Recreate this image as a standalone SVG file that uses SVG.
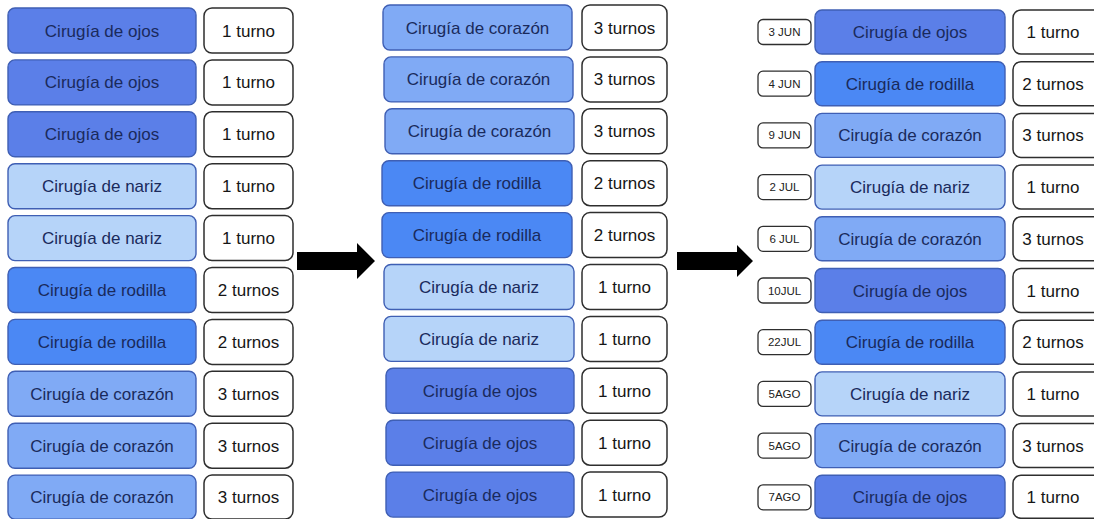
<svg xmlns="http://www.w3.org/2000/svg" width="1094" height="519" viewBox="0 0 1094 519">
  <style>
    .proc { stroke: #3f5fb4; stroke-width: 1.4; }
    .ojos { fill: #5b7fe8; }
    .rodilla { fill: #4b88f4; }
    .corazon { fill: #80aaf5; }
    .nariz { fill: #b6d4f9; }
    .slot { fill: #ffffff; stroke: #2e2e2e; stroke-width: 1.5; }
    .date { fill: #ffffff; stroke: #2e2e2e; stroke-width: 1.3; }
    .t { font-family: "Liberation Sans", Arial, sans-serif; font-size: 17px; text-anchor: middle; }
    .tp { fill: #1a2a5c; }
    .ts { fill: #161616; }
    .td { font-family: "Liberation Sans", Arial, sans-serif; font-size: 11.5px; text-anchor: middle; fill: #222222; }
    .arrow { fill: #000000; }
  </style>

  <rect width="1094" height="519" fill="#ffffff"/>

  <!-- Column 1: requests in arrival order -->
  <g id="col1">
    <g id="c1r1"><rect class="proc ojos" x="8" y="8" width="188" height="45" rx="7"/><text class="t tp" x="102" y="36.5">Cirugía de ojos</text></g>
    <g id="c1r1s"><rect class="slot" x="204" y="8" width="89" height="45" rx="8"/><text class="t ts" x="248.5" y="36.5">1 turno</text></g>
    <g id="c1r2"><rect class="proc ojos" x="8" y="59.9" width="188" height="45" rx="7"/><text class="t tp" x="102" y="88.4">Cirugía de ojos</text></g>
    <g id="c1r2s"><rect class="slot" x="204" y="59.9" width="89" height="45" rx="8"/><text class="t ts" x="248.5" y="88.4">1 turno</text></g>
    <g id="c1r3"><rect class="proc ojos" x="8" y="111.8" width="188" height="45" rx="7"/><text class="t tp" x="102" y="140.3">Cirugía de ojos</text></g>
    <g id="c1r3s"><rect class="slot" x="204" y="111.8" width="89" height="45" rx="8"/><text class="t ts" x="248.5" y="140.3">1 turno</text></g>
    <g id="c1r4"><rect class="proc nariz" x="8" y="163.7" width="188" height="45" rx="7"/><text class="t tp" x="102" y="192.2">Cirugía de nariz</text></g>
    <g id="c1r4s"><rect class="slot" x="204" y="163.7" width="89" height="45" rx="8"/><text class="t ts" x="248.5" y="192.2">1 turno</text></g>
    <g id="c1r5"><rect class="proc nariz" x="8" y="215.6" width="188" height="45" rx="7"/><text class="t tp" x="102" y="244.1">Cirugía de nariz</text></g>
    <g id="c1r5s"><rect class="slot" x="204" y="215.6" width="89" height="45" rx="8"/><text class="t ts" x="248.5" y="244.1">1 turno</text></g>
    <g id="c1r6"><rect class="proc rodilla" x="8" y="267.5" width="188" height="45" rx="7"/><text class="t tp" x="102" y="296">Cirugía de rodilla</text></g>
    <g id="c1r6s"><rect class="slot" x="204" y="267.5" width="89" height="45" rx="8"/><text class="t ts" x="248.5" y="296">2 turnos</text></g>
    <g id="c1r7"><rect class="proc rodilla" x="8" y="319.4" width="188" height="45" rx="7"/><text class="t tp" x="102" y="347.9">Cirugía de rodilla</text></g>
    <g id="c1r7s"><rect class="slot" x="204" y="319.4" width="89" height="45" rx="8"/><text class="t ts" x="248.5" y="347.9">2 turnos</text></g>
    <g id="c1r8"><rect class="proc corazon" x="8" y="371.3" width="188" height="45" rx="7"/><text class="t tp" x="102" y="399.8">Cirugía de corazón</text></g>
    <g id="c1r8s"><rect class="slot" x="204" y="371.3" width="89" height="45" rx="8"/><text class="t ts" x="248.5" y="399.8">3 turnos</text></g>
    <g id="c1r9"><rect class="proc corazon" x="8" y="423.2" width="188" height="45" rx="7"/><text class="t tp" x="102" y="451.7">Cirugía de corazón</text></g>
    <g id="c1r9s"><rect class="slot" x="204" y="423.2" width="89" height="45" rx="8"/><text class="t ts" x="248.5" y="451.7">3 turnos</text></g>
    <g id="c1r10"><rect class="proc corazon" x="8" y="475.1" width="188" height="44" rx="7"/><text class="t tp" x="102" y="503.1">Cirugía de corazón</text></g>
    <g id="c1r10s"><rect class="slot" x="204" y="475.1" width="89" height="44" rx="8"/><text class="t ts" x="248.5" y="503.1">3 turnos</text></g>
  </g>

  <!-- Column 2: requests sorted by number of slots -->
  <g id="col2">
    <g id="c2r1"><rect class="proc corazon" x="383" y="5" width="189" height="45" rx="7"/><text class="t tp" x="477.5" y="33.5">Cirugía de corazón</text></g>
    <g id="c2r1s"><rect class="slot" x="582" y="5" width="85" height="45" rx="8"/><text class="t ts" x="624.5" y="33.5">3 turnos</text></g>
    <g id="c2r2"><rect class="proc corazon" x="384" y="56.9" width="189" height="45" rx="7"/><text class="t tp" x="478.5" y="85.4">Cirugía de corazón</text></g>
    <g id="c2r2s"><rect class="slot" x="582" y="56.9" width="85" height="45" rx="8"/><text class="t ts" x="624.5" y="85.4">3 turnos</text></g>
    <g id="c2r3"><rect class="proc corazon" x="385" y="108.8" width="189" height="45" rx="7"/><text class="t tp" x="479.5" y="137.3">Cirugía de corazón</text></g>
    <g id="c2r3s"><rect class="slot" x="582" y="108.8" width="85" height="45" rx="8"/><text class="t ts" x="624.5" y="137.3">3 turnos</text></g>
    <g id="c2r4"><rect class="proc rodilla" x="382" y="160.7" width="190" height="45" rx="7"/><text class="t tp" x="477" y="189.2">Cirugía de rodilla</text></g>
    <g id="c2r4s"><rect class="slot" x="582" y="160.7" width="85" height="45" rx="8"/><text class="t ts" x="624.5" y="189.2">2 turnos</text></g>
    <g id="c2r5"><rect class="proc rodilla" x="382" y="212.6" width="190" height="45" rx="7"/><text class="t tp" x="477" y="241.1">Cirugía de rodilla</text></g>
    <g id="c2r5s"><rect class="slot" x="582" y="212.6" width="85" height="45" rx="8"/><text class="t ts" x="624.5" y="241.1">2 turnos</text></g>
    <g id="c2r6"><rect class="proc nariz" x="384" y="264.5" width="190" height="45" rx="7"/><text class="t tp" x="479" y="293">Cirugía de nariz</text></g>
    <g id="c2r6s"><rect class="slot" x="582" y="264.5" width="85" height="45" rx="8"/><text class="t ts" x="624.5" y="293">1 turno</text></g>
    <g id="c2r7"><rect class="proc nariz" x="384" y="316.4" width="190" height="45" rx="7"/><text class="t tp" x="479" y="344.9">Cirugía de nariz</text></g>
    <g id="c2r7s"><rect class="slot" x="582" y="316.4" width="85" height="45" rx="8"/><text class="t ts" x="624.5" y="344.9">1 turno</text></g>
    <g id="c2r8"><rect class="proc ojos" x="386" y="368.3" width="188" height="45" rx="7"/><text class="t tp" x="480" y="396.8">Cirugía de ojos</text></g>
    <g id="c2r8s"><rect class="slot" x="582" y="368.3" width="85" height="45" rx="8"/><text class="t ts" x="624.5" y="396.8">1 turno</text></g>
    <g id="c2r9"><rect class="proc ojos" x="386" y="420.2" width="188" height="45" rx="7"/><text class="t tp" x="480" y="448.7">Cirugía de ojos</text></g>
    <g id="c2r9s"><rect class="slot" x="582" y="420.2" width="85" height="45" rx="8"/><text class="t ts" x="624.5" y="448.7">1 turno</text></g>
    <g id="c2r10"><rect class="proc ojos" x="386" y="472.1" width="188" height="45" rx="7"/><text class="t tp" x="480" y="500.6">Cirugía de ojos</text></g>
    <g id="c2r10s"><rect class="slot" x="582" y="472.1" width="85" height="45" rx="8"/><text class="t ts" x="624.5" y="500.6">1 turno</text></g>
  </g>

  <!-- Column 3: scheduled dates -->
  <g id="col3">
    <g id="c3r1d"><rect class="date" x="758" y="19.5" width="53" height="25" rx="5"/><text class="td" x="784.5" y="36">3 JUN</text></g>
    <g id="c3r1"><rect class="proc ojos" x="815" y="10" width="190" height="44" rx="7"/><text class="t tp" x="910" y="38">Cirugía de ojos</text></g>
    <g id="c3r1s"><rect class="slot" x="1013" y="10" width="92" height="44" rx="8"/><text class="t ts" x="1053" y="38">1 turno</text></g>

    <g id="c3r2d"><rect class="date" x="758" y="71.2" width="53" height="25" rx="5"/><text class="td" x="784.5" y="87.7">4 JUN</text></g>
    <g id="c3r2"><rect class="proc rodilla" x="815" y="61.7" width="190" height="44" rx="7"/><text class="t tp" x="910" y="89.7">Cirugía de rodilla</text></g>
    <g id="c3r2s"><rect class="slot" x="1013" y="61.7" width="92" height="44" rx="8"/><text class="t ts" x="1053" y="89.7">2 turnos</text></g>

    <g id="c3r3d"><rect class="date" x="758" y="122.9" width="53" height="25" rx="5"/><text class="td" x="784.5" y="139.4">9 JUN</text></g>
    <g id="c3r3"><rect class="proc corazon" x="815" y="113.4" width="190" height="44" rx="7"/><text class="t tp" x="910" y="141.4">Cirugía de corazón</text></g>
    <g id="c3r3s"><rect class="slot" x="1013" y="113.4" width="92" height="44" rx="8"/><text class="t ts" x="1053" y="141.4">3 turnos</text></g>

    <g id="c3r4d"><rect class="date" x="758" y="174.6" width="53" height="25" rx="5"/><text class="td" x="784.5" y="191.1">2 JUL</text></g>
    <g id="c3r4"><rect class="proc nariz" x="815" y="165.1" width="190" height="44" rx="7"/><text class="t tp" x="910" y="193.1">Cirugía de nariz</text></g>
    <g id="c3r4s"><rect class="slot" x="1013" y="165.1" width="92" height="44" rx="8"/><text class="t ts" x="1053" y="193.1">1 turno</text></g>

    <g id="c3r5d"><rect class="date" x="758" y="226.3" width="53" height="25" rx="5"/><text class="td" x="784.5" y="242.8">6 JUL</text></g>
    <g id="c3r5"><rect class="proc corazon" x="815" y="216.8" width="190" height="44" rx="7"/><text class="t tp" x="910" y="244.8">Cirugía de corazón</text></g>
    <g id="c3r5s"><rect class="slot" x="1013" y="216.8" width="92" height="44" rx="8"/><text class="t ts" x="1053" y="244.8">3 turnos</text></g>

    <g id="c3r6d"><rect class="date" x="758" y="278" width="53" height="25" rx="5"/><text class="td" x="784.5" y="294.5">10JUL</text></g>
    <g id="c3r6"><rect class="proc ojos" x="815" y="268.5" width="190" height="44" rx="7"/><text class="t tp" x="910" y="296.5">Cirugía de ojos</text></g>
    <g id="c3r6s"><rect class="slot" x="1013" y="268.5" width="92" height="44" rx="8"/><text class="t ts" x="1053" y="296.5">1 turno</text></g>

    <g id="c3r7d"><rect class="date" x="758" y="329.7" width="53" height="25" rx="5"/><text class="td" x="784.5" y="346.2">22JUL</text></g>
    <g id="c3r7"><rect class="proc rodilla" x="815" y="320.2" width="190" height="44" rx="7"/><text class="t tp" x="910" y="348.2">Cirugía de rodilla</text></g>
    <g id="c3r7s"><rect class="slot" x="1013" y="320.2" width="92" height="44" rx="8"/><text class="t ts" x="1053" y="348.2">2 turnos</text></g>

    <g id="c3r8d"><rect class="date" x="758" y="381.4" width="53" height="25" rx="5"/><text class="td" x="784.5" y="397.9">5AGO</text></g>
    <g id="c3r8"><rect class="proc nariz" x="815" y="371.9" width="190" height="44" rx="7"/><text class="t tp" x="910" y="399.9">Cirugía de nariz</text></g>
    <g id="c3r8s"><rect class="slot" x="1013" y="371.9" width="92" height="44" rx="8"/><text class="t ts" x="1053" y="399.9">1 turno</text></g>

    <g id="c3r9d"><rect class="date" x="758" y="433.1" width="53" height="25" rx="5"/><text class="td" x="784.5" y="449.6">5AGO</text></g>
    <g id="c3r9"><rect class="proc corazon" x="815" y="423.6" width="190" height="44" rx="7"/><text class="t tp" x="910" y="451.6">Cirugía de corazón</text></g>
    <g id="c3r9s"><rect class="slot" x="1013" y="423.6" width="92" height="44" rx="8"/><text class="t ts" x="1053" y="451.6">3 turnos</text></g>

    <g id="c3r10d"><rect class="date" x="758" y="484.8" width="53" height="25" rx="5"/><text class="td" x="784.5" y="501.3">7AGO</text></g>
    <g id="c3r10"><rect class="proc ojos" x="815" y="475.3" width="190" height="43" rx="7"/><text class="t tp" x="910" y="502.8">Cirugía de ojos</text></g>
    <g id="c3r10s"><rect class="slot" x="1013" y="475.3" width="92" height="43" rx="8"/><text class="t ts" x="1053" y="502.8">1 turno</text></g>
  </g>

  <!-- Block arrows between the columns -->
  <g id="connectors">
    <polygon class="arrow" points="297,252 357,252 357,243 375,261 357,279 357,270 297,270"/>
    <polygon class="arrow" points="677,252 737,252 737,245 753,261 737,277 737,270 677,270"/>
  </g>
</svg>
